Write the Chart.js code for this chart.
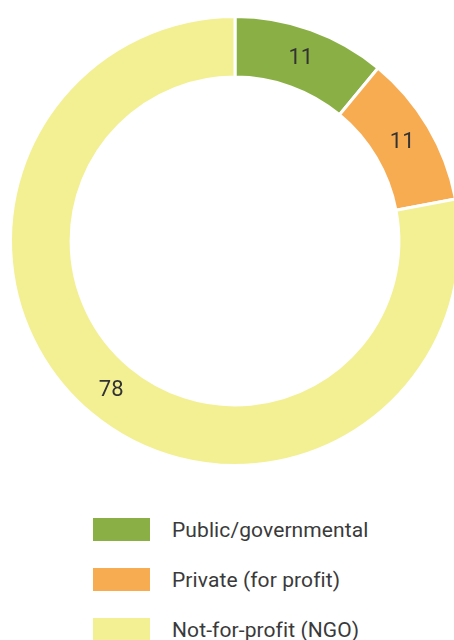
<!DOCTYPE html>
<html>
<head>
<meta charset="utf-8">
<script src="https://cdn.jsdelivr.net/npm/chart.js@4.4.0/dist/chart.umd.min.js"></script>
<style>
  html, body { margin: 0; padding: 0; background: #fff; overflow: hidden; width: 454px; height: 640px; }
  #wrap { position: absolute; left: 0; top: 0; width: 470px; height: 483px; }
  #legend { position: absolute; left: 93px; top: 518px; font-family: Roboto, "DejaVu Sans", sans-serif; }
  .item { position: relative; height: 50px; }
  .box { position: absolute; left: 0; top: 0; width: 57px; height: 23px; }
  .txt { position: absolute; left: 79px; top: 0; font-size: 21px; line-height: 24px; color: #3a3a3a; letter-spacing: 0.1px; white-space: nowrap; }
</style>
</head>
<body>
<div id="wrap"><canvas id="myChart"></canvas></div>
<div id="legend"></div>
<script>
const labels = ["Public/governmental", "Private (for profit)", "Not-for-profit (NGO)"];
const values = [11, 11, 78];
const colors = ["#8AB045", "#F8AC52", "#F3F094"];

// numbers inside the slices
const sliceLabels = {
    id: 'sliceLabels',
    afterDatasetsDraw(chart) {
        const ctx = chart.ctx;
        const meta = chart.getDatasetMeta(0);
        ctx.save();
        ctx.font = '22px Roboto, "DejaVu Sans", sans-serif';
        ctx.fillStyle = '#333333';
        ctx.textAlign = 'center';
        ctx.textBaseline = 'middle';
        meta.data.forEach((arc, i) => {
            const p = arc.tooltipPosition();
            ctx.fillText(String(chart.data.datasets[0].data[i]), p.x, p.y);
        });
        ctx.restore();
    }
};

const myChartRef = document.getElementById("myChart").getContext("2d");
new Chart(myChartRef, {
    type: "doughnut",
    data: {
        labels: labels,
        datasets: [
            {
                data: values,
                backgroundColor: colors,
                borderColor: "#ffffff",
                borderWidth: 3
            }
        ]
    },
    options: {
        responsive: true,
        maintainAspectRatio: false,
        animation: false,
        cutout: "73%",
        layout: { padding: { top: 15, bottom: 16 } },
        plugins: {
            legend: { display: false },
            tooltip: { enabled: false }
        }
    },
    plugins: [sliceLabels]
});

// legend under the chart
const legend = document.getElementById("legend");
labels.forEach((name, i) => {
    const item = document.createElement("div");
    item.className = "item";
    item.innerHTML = '<div class="box" style="background:' + colors[i] + '"></div><div class="txt">' + name + '</div>';
    legend.appendChild(item);
});
</script>
</body>
</html>
